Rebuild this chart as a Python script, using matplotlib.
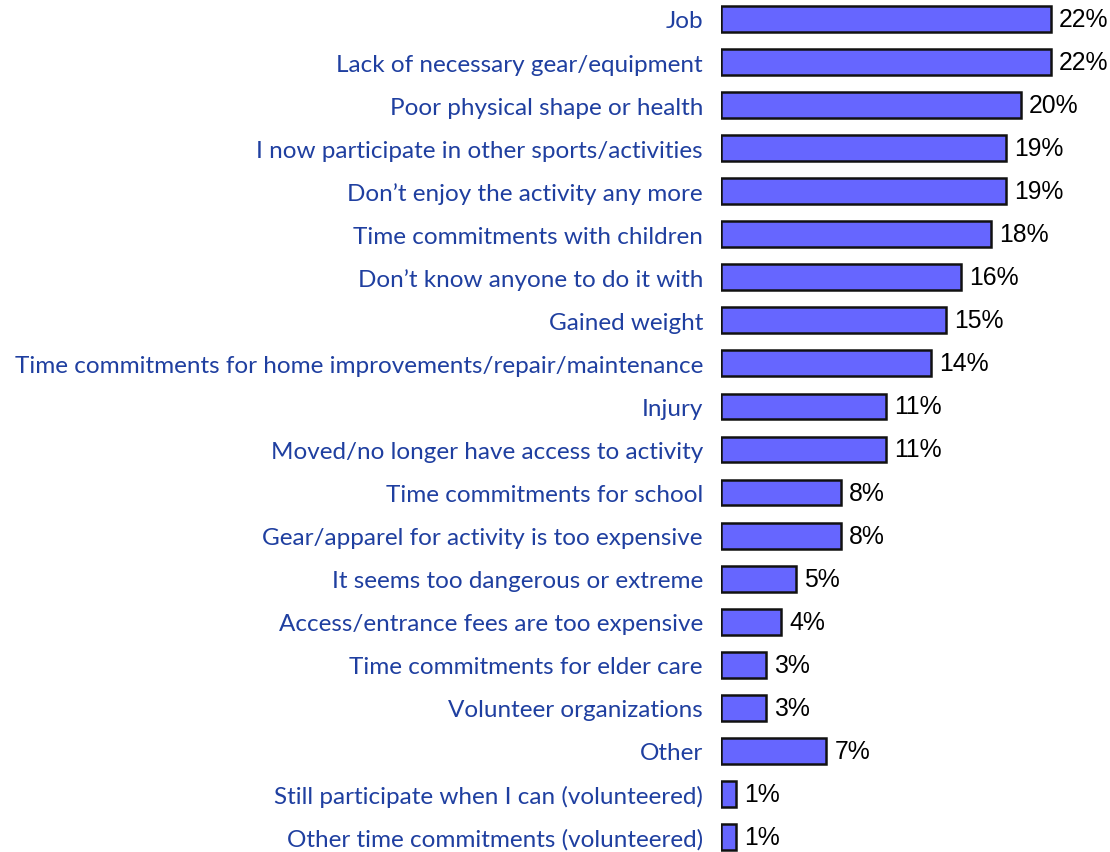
import matplotlib
matplotlib.use("Agg")
import matplotlib.pyplot as plt

categories = [
    "Job",
    "Lack of necessary gear/equipment",
    "Poor physical shape or health",
    "I now participate in other sports/activities",
    "Don\u2019t enjoy the activity any more",
    "Time commitments with children",
    "Don\u2019t know anyone to do it with",
    "Gained weight",
    "Time commitments for home improvements/repair/maintenance",
    "Injury",
    "Moved/no longer have access to activity",
    "Time commitments for school",
    "Gear/apparel for activity is too expensive",
    "It seems too dangerous or extreme",
    "Access/entrance fees are too expensive",
    "Time commitments for elder care",
    "Volunteer organizations",
    "Other",
    "Still participate when I can (volunteered)",
    "Other time commitments (volunteered)",
]
values = [22, 22, 20, 19, 19, 18, 16, 15, 14, 11, 11, 8, 8, 5, 4, 3, 3, 7, 1, 1]

W, H = 1110, 853
fig = plt.figure(figsize=(W / 100, H / 100), dpi=100)
left_px = 721
ax = fig.add_axes([left_px / W, 0, 1 - left_px / W, 1])

px_per_unit = 15.0
ax.set_xlim(0, (W - left_px) / px_per_unit)
row = 43.05
top = 20
ax.set_ylim((H - top) / row, -top / row)

y = list(range(len(categories)))
ax.barh(y, values, height=0.6, color="#6666FF", edgecolor="#111111", linewidth=1.8, left=0)

for yi, v in zip(y, values):
    ax.text(v + 0.55, yi, f"{v}%", va="center", ha="left",
            fontsize=17.8, family=["Liberation Sans", "DejaVu Sans"], color="black")

ax.set_yticks(y)
ax.set_yticklabels(categories, fontsize=17.5, family=["Lato", "DejaVu Sans"], color="#1f3fa0")
ax.tick_params(axis="y", length=0, pad=13)
ax.set_xticks([])
for s in ax.spines.values():
    s.set_visible(False)

fig.savefig("out.png", dpi=100)
